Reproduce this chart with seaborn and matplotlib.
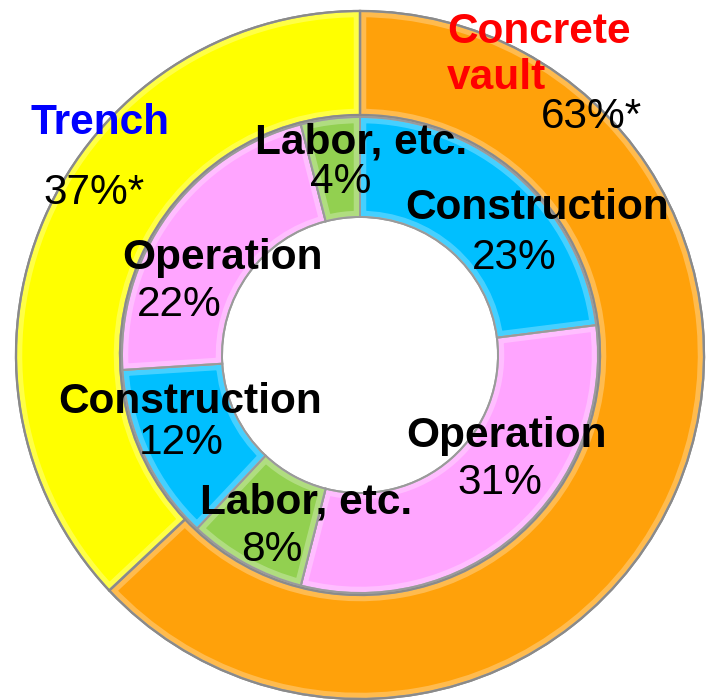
import matplotlib
matplotlib.use("Agg")
import matplotlib.pyplot as plt
import matplotlib.patches as mpatches
import seaborn as sns

# Cost shares (%)
outer_labels = ["Concrete\nvault", "Trench"]
outer_values = [63, 37]
outer_pct_text = ["63%*", "37%*"]

inner_labels = ["Construction", "Operation", "Labor, etc.",
                "Construction", "Operation", "Labor, etc."]
inner_values = [23, 31, 8, 12, 22, 4]

sns.set_theme(style="white")
plt.rcParams["font.family"] = ["Liberation Sans", "DejaVu Sans"]

outer_colors = ["#FFA10A", "#FFFF00"]
inner_palette = {"Construction": "#00BFFF", "Operation": "#FFA5FF",
                 "Labor, etc.": "#92D050"}
inner_colors = [inner_palette[k] for k in inner_labels]

W, H = 708, 700
fig = plt.figure(figsize=(W / 100, H / 100), dpi=100)
ax = fig.add_axes([0, 0, 1, 1])

cx, cy = 360, H - 355
R_out, R_mid, R_in = 344, 239, 138

outer_w, _ = ax.pie(outer_values, colors=outer_colors, startangle=90,
                    counterclock=False, radius=R_out, center=(cx, cy),
                    frame=True,
                    wedgeprops=dict(width=R_out - R_mid - 1,
                                    edgecolor="#8a8a8a", linewidth=1.6))
inner_w, _ = ax.pie(inner_values, colors=inner_colors, startangle=90,
                    counterclock=False, radius=R_mid - 1, center=(cx, cy),
                    frame=True,
                    wedgeprops=dict(width=R_mid - 1 - R_in,
                                    edgecolor="#9a9a9a", linewidth=1.4))

# soft bevel: a light band along each wedge border, clipped to the wedge
for w in list(outer_w) + list(inner_w):
    band = mpatches.PathPatch(w.get_path(), transform=w.get_transform(),
                              facecolor="none", edgecolor="white",
                              linewidth=9, alpha=0.28, zorder=w.get_zorder())
    ax.add_patch(band)
    band.set_clip_path(w)
    rim = mpatches.PathPatch(w.get_path(), transform=w.get_transform(),
                             facecolor="none", edgecolor=w.get_edgecolor(),
                             linewidth=w.get_linewidth(),
                             zorder=w.get_zorder())
    ax.add_patch(rim)

ax.set_xlim(0, W)
ax.set_ylim(0, H)
ax.axis("off")


def put(x, y, s, **kw):
    ax.text(x, H - y, s, ha="center", va="center", **kw)


FS = 30.5
# Outer ring captions
ax.text(447, H - 55, outer_labels[0], ha="left", va="center", color="red",
        fontsize=FS, fontweight="bold", linespacing=1.22)
put(591, 117, outer_pct_text[0], fontsize=FS, color="black")
put(100, 123, outer_labels[1], fontsize=FS, color="#0000FF", fontweight="bold")
put(94, 193, outer_pct_text[1], fontsize=FS, color="black")

# Inner ring captions: (label center, percent center)
inner_pos = [((537, 208), (514, 258)),
             ((506, 436), (500, 483)),
             ((306, 502), (272, 550)),
             ((190, 402), (181, 443)),
             ((223, 258), (179, 305)),
             ((361, 142), (341, 182))]
for lab, val, (lp, pp) in zip(inner_labels, inner_values, inner_pos):
    put(*lp, lab, fontsize=FS, fontweight="bold", color="black")
    put(*pp, f"{val}%", fontsize=FS, color="black")

fig.savefig("out.png", dpi=100, facecolor="white")
